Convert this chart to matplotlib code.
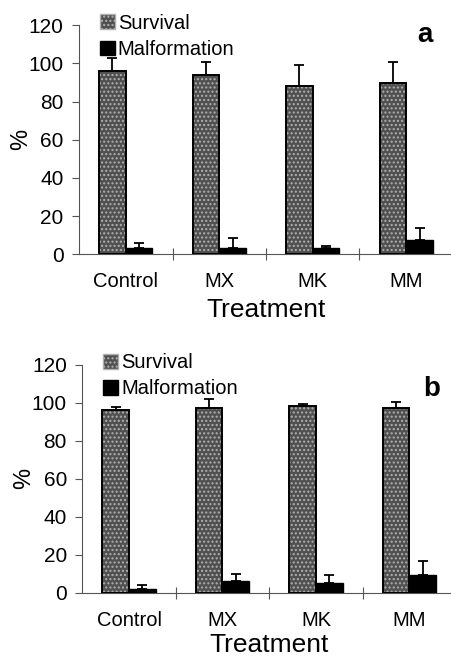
import numpy as np
import matplotlib
matplotlib.use("Agg")
import matplotlib.pyplot as plt
from matplotlib.patches import Patch

plt.rcParams['font.family'] = ['Liberation Sans', 'DejaVu Sans']
plt.rcParams['hatch.linewidth'] = 1.0

# Data
treatments = ["Control", "MX", "MK", "MM"]

surv_a = [96, 94, 88, 90]
surv_a_err = [7, 7, 11, 11]
malf_a = [3.5, 3.3, 3.3, 7.3]
malf_a_err = [2.5, 5, 1, 6.6]

surv_b = [96, 97, 98, 97]
surv_b_err = [1.8, 5, 1.5, 3.4]
malf_b = [2.1, 6, 5.3, 9.3]
malf_b_err = [1.8, 3.7, 3.9, 7.2]

panels = [
    ("a", surv_a, surv_a_err, malf_a, malf_a_err, [0.1748, 0.6123, 0.8274, 0.3491], (0.925, 0.957), 5),
    ("b", surv_b, surv_b_err, malf_b, malf_b_err, [0.182, 0.0965, 0.8274, 0.3476], (0.935, 0.892), 2),
]

fig = plt.figure(figsize=(4.52, 6.56), dpi=100)

width = 0.285
off = 0.143
x = np.arange(len(treatments))
surv_face = "#505050"
surv_hatch = "#b0b0b0"

for letter, surv, surv_err, malf, malf_err, rect, letter_pos, xpad in panels:
    ax = fig.add_axes(rect)

    # survival bars: checkered grey fill, black outline
    ax.bar(x - off, surv, width, color=surv_face, edgecolor=surv_hatch,
           hatch="....", linewidth=0, zorder=2)
    ax.bar(x - off, surv, width, fill=False, edgecolor="black",
           linewidth=1.4, zorder=3)
    ax.errorbar(x - off, surv, yerr=[np.zeros(len(surv)), surv_err], fmt="none",
                ecolor="black", elinewidth=1.3, capsize=3.8, capthick=1.3, zorder=1)

    # malformation bars: solid black
    ax.bar(x + off, malf, width, color="black", edgecolor="black",
           linewidth=1.0, zorder=3)
    ax.errorbar(x + off, malf, yerr=[np.zeros(len(malf)), malf_err], fmt="none",
                ecolor="black", elinewidth=1.3, capsize=3.8, capthick=1.3, zorder=1)

    ax.set_xlim(-0.5, 3.5)
    ax.set_ylim(0, 120)
    ax.set_yticks(range(0, 121, 20))
    ax.set_xticks(x)
    ax.set_xticklabels(treatments)
    ax.set_xticks(np.arange(0.5, 3.6, 1), minor=True)

    for s in ["top", "right"]:
        ax.spines[s].set_visible(False)
    for s in ["left", "bottom"]:
        ax.spines[s].set_color("#555555")
        ax.spines[s].set_linewidth(0.8)

    ax.tick_params(axis="y", direction="out", length=5, width=0.8,
                   color="#555555", labelsize=15, pad=6)
    ax.tick_params(axis="x", which="major", length=0, labelsize=14.5, pad=13)
    ax.tick_params(axis="x", which="minor", direction="inout", length=8,
                   width=0.8, color="#555555")

    ax.set_ylabel("%", fontsize=17)
    ax.yaxis.set_label_coords(-0.125, 0.5)
    ax.set_xlabel("Treatment", fontsize=19, labelpad=xpad)

    # legend in the upper left, partly above the axes
    handles = [Patch(facecolor=surv_face, edgecolor=surv_hatch, hatch="...."),
               Patch(facecolor="black", edgecolor="black")]
    ax.legend(handles, ["Survival", "Malformation"], loc="upper left",
              bbox_to_anchor=(0.055, 1.05), frameon=False, fontsize=14.5,
              handlelength=0.75, handleheight=0.75, handletextpad=0.15,
              labelspacing=0.35, borderaxespad=0, borderpad=0)

    ax.text(letter_pos[0], letter_pos[1], letter, transform=ax.transAxes,
            fontsize=20, fontweight="bold", ha="center", va="center")

fig.savefig("out.png", dpi=100)
